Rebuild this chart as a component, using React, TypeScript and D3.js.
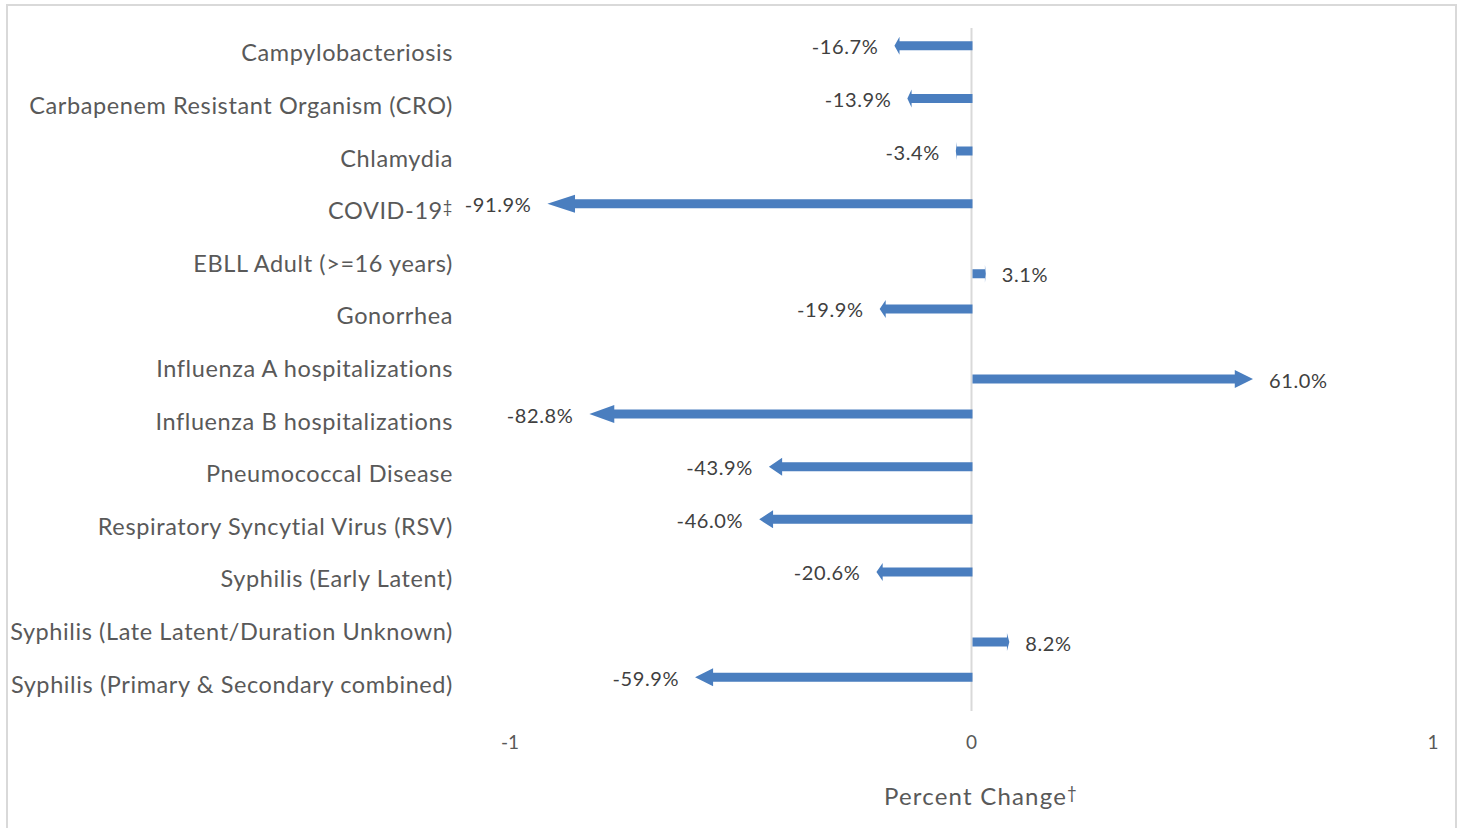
import React from 'react';
import * as d3 from 'd3';

const categories: string[] = [
    'Campylobacteriosis',
    'Carbapenem Resistant Organism (CRO)',
    'Chlamydia',
    'COVID-19‡',
    'EBLL Adult (>=16 years)',
    'Gonorrhea',
    'Influenza A hospitalizations',
    'Influenza B hospitalizations',
    'Pneumococcal Disease',
    'Respiratory Syncytial Virus (RSV)',
    'Syphilis (Early Latent)',
    'Syphilis (Late Latent/Duration Unknown)',
    'Syphilis (Primary & Secondary combined)',
];

// percent change, as a fraction
const changes: number[] = [
    -0.167, -0.139, -0.034, -0.919, 0.031, -0.199, 0.610,
    -0.828, -0.439, -0.460, -0.206, 0.082, -0.599,
];

const tickValues: number[] = [-1, 0, 1];

const width = 1463;
const height = 828;
const FONT = 'Lato, "Open Sans", sans-serif';
const BLUE = '#4a7ebf';

function arrowPath(x0: number, x1: number, cy: number): string {
    const len = x1 - x0;
    const dir = Math.sign(len) || 1;
    const head = Math.abs(len) * 0.065;
    const hb = x1 - dir * head;
    const s = 4.5;
    const h = 9;
    return `M${x0},${cy - s}L${hb},${cy - s}L${hb},${cy - h}L${x1},${cy}` +
        `L${hb},${cy + h}L${hb},${cy + s}L${x0},${cy + s}Z`;
}

// small raised dagger marks like the original
function label(s: string) {
    const m = s.match(/^(.*?)([†‡])$/);
    if (!m) return s;
    return (
        <>
            {m[1]}
            <tspan fontSize="0.7em" dy="-0.35em">{m[2]}</tspan>
        </>
    );
}

function App() {
    const x = d3.scaleLinear().domain([-1, 1]).range([510, 1433]);
    const y = d3.scaleBand<string>().domain(categories).range([27, 711]);
    const bw = y.bandwidth();
    const fmt = (v: number) => d3.format('.1%')(v).replace('\u2212', '-');

    return (
        <svg width={width} height={height}
            style={{ position: 'absolute', left: 0, top: 0, background: '#fff' }}>
            <rect x={7} y={5} width={1449} height={840} fill="#fff"
                stroke="#d9d9d9" strokeWidth={2} />
            <line x1={x(0)} x2={x(0)} y1={28} y2={711} stroke="#d9d9d9" strokeWidth={2} />
            <g fontFamily={FONT}>
                {categories.map((c) => (
                    <text key={c} x={453} y={(y(c) as number) + bw / 2 + 8}
                        textAnchor="end" fontSize={23.5} letterSpacing={0.6}
                        fill="#595959">{label(c)}</text>
                ))}
                {categories.map((c, i) => {
                    const v = changes[i];
                    const cy = (y(c) as number) + bw / 2 + (v < 0 ? -7.5 : 10);
                    const tip = x(v);
                    return (
                        <g key={c}>
                            <path d={arrowPath(x(0) + 1, tip, cy)} fill={BLUE} />
                            <text x={v < 0 ? tip - 16 : tip + 16} y={cy + 1.5} dy="0.35em"
                                textAnchor={v < 0 ? 'end' : 'start'} fontSize={20}
                                letterSpacing={0.6} fill="#404040">{fmt(v)}</text>
                        </g>
                    );
                })}
                {tickValues.map((t) => (
                    <text key={t} x={x(t)} y={742} dy="0.35em" textAnchor="middle"
                        fontSize={19} fill="#595959">{t}</text>
                ))}
                <text x={981} y={805} textAnchor="middle" fontSize={24}
                    letterSpacing={1.2} fill="#595959">{label('Percent Change†')}</text>
            </g>
        </svg>
    );
}

export default App;
